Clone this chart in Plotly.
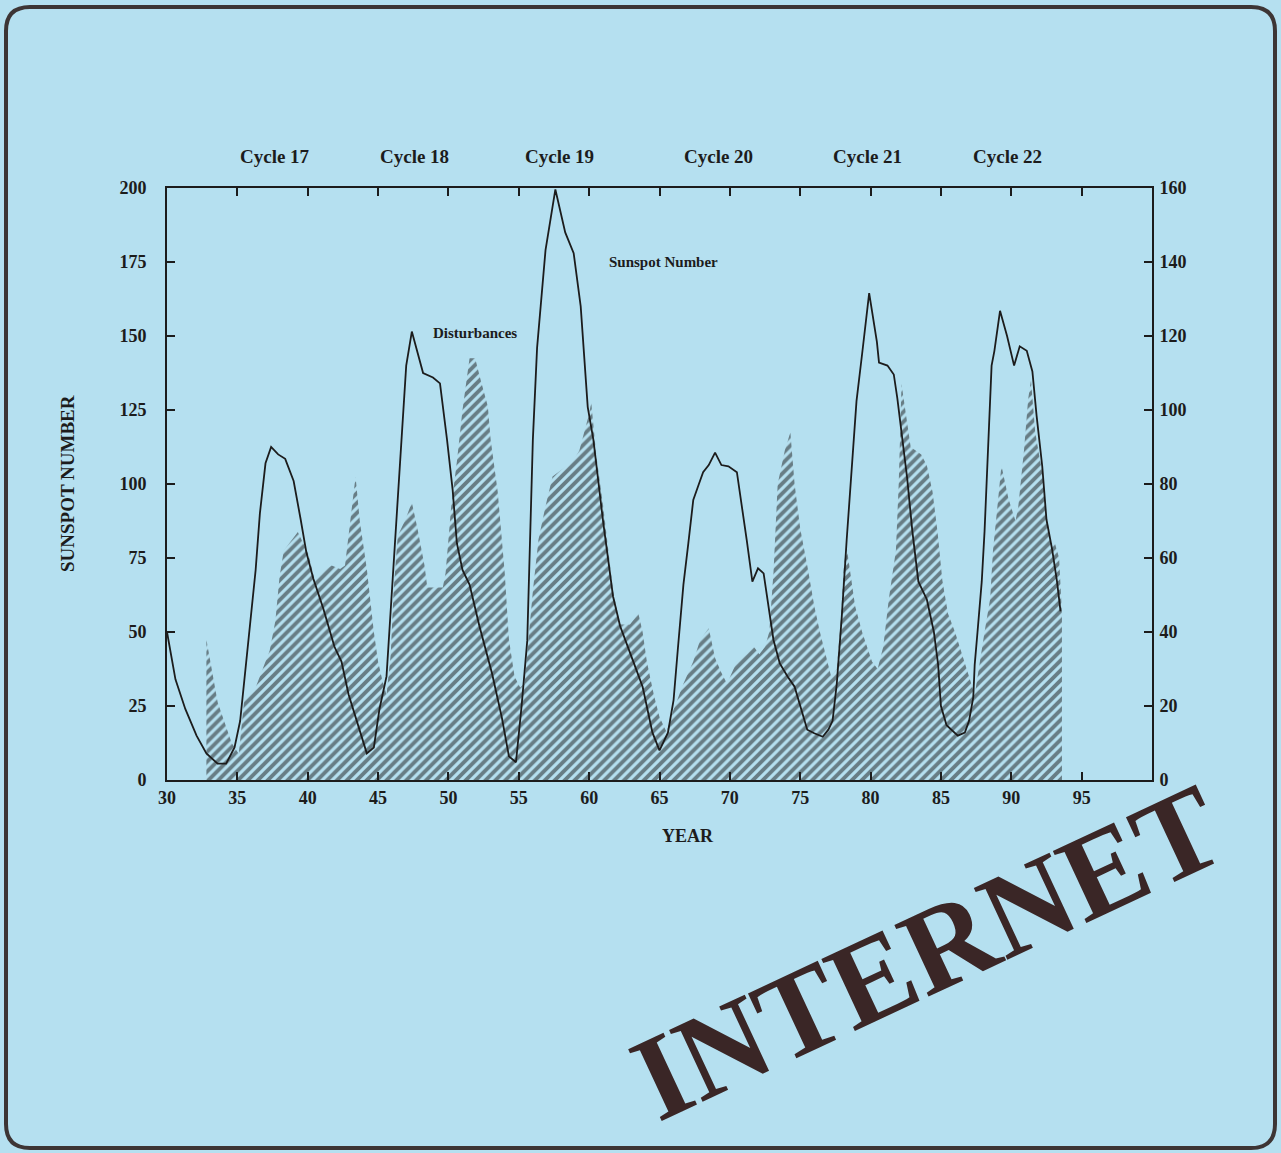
import plotly.graph_objects as go

# ---------------- data ----------------
sunspot_years = [30.0, 30.6, 31.3, 32.1, 32.8, 33.6, 34.2, 34.8, 35.2, 35.8, 36.3, 36.6, 37.0, 37.4,
                 37.9, 38.4, 39.0, 39.5, 39.9, 40.4, 41.1, 41.9, 42.4, 42.9, 43.5, 44.2, 44.7, 45.1,
                 45.6, 46.0, 46.3, 46.7, 47.0, 47.4, 48.2, 48.9, 49.4, 49.9, 50.3, 50.6, 51.0, 51.5,
                 52.2, 53.1, 53.8, 54.3, 54.8, 55.2, 55.6, 56.0, 56.3, 56.9, 57.6, 58.3, 58.9, 59.4,
                 59.9, 60.3, 61.0, 61.7, 62.2, 63.1, 63.8, 64.5, 65.0, 65.6, 66.0, 66.3, 66.7, 67.05,
                 67.4, 67.8, 68.1, 68.5, 68.95, 69.4, 69.9, 70.5, 70.8, 71.2, 71.6, 72.0, 72.4, 72.7,
                 73.1, 73.55, 74.1, 74.6, 75.1, 75.5, 76.0, 76.6, 77.0, 77.3, 77.6, 77.95, 78.3, 78.7,
                 79.0, 79.4, 79.9, 80.45, 80.6, 81.2, 81.65, 81.9, 82.25, 82.6, 82.97, 83.4, 84.0,
                 84.5, 84.8, 85.0, 85.4, 86.2, 86.7, 87.0, 87.3, 87.4, 87.6, 87.9, 88.1, 88.35, 88.6,
                 88.8, 89.2, 89.7, 90.2, 90.6, 91.1, 91.5, 91.8, 92.2, 92.5, 92.9, 93.25, 93.5]
sunspot_values = [50, 34, 24, 15, 9, 5.5, 5.5, 11, 20, 47, 71, 90, 107, 112.5,
                  110, 108.5, 101, 88, 77, 68, 58, 45, 40, 29, 20, 9, 11, 24,
                  35, 65, 88, 120, 140, 151.5, 137.5, 136, 134, 115, 98, 80, 71, 66,
                  52, 36, 21, 8, 6, 25, 47, 115, 146, 179, 199.5, 185, 178, 160,
                  126, 115, 87, 62, 52, 40.5, 31.5, 16, 10, 16, 27, 44, 66, 80,
                  94.6, 100, 104, 106.4, 110.6, 106.4, 106, 104, 94.6, 81, 67, 71.5, 69.8, 60.8,
                  47.3, 39.4, 35, 31.5, 23.7, 17, 15.8, 14.6, 17, 20, 32.6, 55, 81, 106,
                  128, 144, 164.5, 148, 141, 140, 137, 129, 115, 102, 84, 67, 61,
                  50, 39, 25, 18.5, 15, 16, 20, 28, 39, 50, 67, 84, 111, 140,
                  145, 158.5, 150, 140, 146.5, 145, 138, 123, 106, 88, 78, 67, 57]

disturb_years = [32.8, 33.6, 34.6, 35.1, 35.5, 36.2, 36.8, 37.3, 37.7, 38.0, 38.3, 38.7, 39.3, 40.05,
                 40.5, 40.8, 41.3, 41.7, 42.3, 42.65, 43.0, 43.4, 43.7, 44.2, 44.7, 45.0, 45.3, 45.6,
                 45.9, 46.1, 46.4, 46.9, 47.4, 47.8, 48.3, 48.5, 49.0, 49.6, 49.8, 50.2, 50.6, 51.0,
                 51.5, 51.9, 52.3, 52.8, 53.0, 53.5, 54.0, 54.3, 54.7, 55.1, 55.4, 56.0, 56.4, 56.9,
                 57.4, 58.1, 58.8, 59.3, 60.0, 60.15, 60.5, 61.0, 61.7, 62.2, 62.9, 63.5, 63.8, 64.1,
                 64.6, 65.0, 65.5, 66.0, 66.7, 67.4, 67.9, 68.5, 68.95, 69.4, 69.8, 70.5, 71.2, 71.7,
                 72.1, 72.5, 72.8, 73.1, 73.4, 73.9, 74.3, 74.6, 75.0, 75.5, 76.0, 76.4, 76.9, 77.2,
                 77.6, 77.9, 78.1, 78.3, 78.9, 79.4, 80.1, 80.5, 80.9, 81.3, 81.8, 82.0, 82.2, 82.85,
                 83.6, 84.0, 84.4, 84.76, 85.1, 85.5, 86.0, 86.6, 87.0, 87.4, 87.9, 88.1, 88.5, 88.7,
                 89.07, 89.3, 89.8, 90.3, 90.5, 90.9, 91.2, 91.4, 91.7, 92.2, 92.5, 92.8, 93.1, 93.4,
                 93.6]
disturb_values = [38, 21, 10, 7, 22, 24, 30, 35, 43, 55, 62, 64, 67, 61,
                  54, 55, 57, 58, 57, 58, 70, 82, 70, 57, 40, 32, 27, 23,
                  34, 51, 66, 70, 75, 68, 58, 52, 52, 52, 56, 74, 86, 100,
                  114, 114, 108, 101, 92, 78, 56, 38, 28, 25, 26, 51, 65, 74,
                  82, 84, 86, 89, 99, 102, 88, 74, 51, 42, 42, 45, 40, 32,
                  23, 17, 13, 19, 26, 32, 38, 41, 33, 29, 26, 32, 34, 36,
                  34, 36, 40, 56, 80, 89, 94, 80, 68, 58, 47, 40, 32, 28,
                  30, 44, 58, 63, 47, 40, 32, 30, 36, 49, 62, 80, 107, 90,
                  88, 85, 78, 67, 54, 45, 40, 33, 28, 23, 36, 40, 49, 62,
                  76, 85, 76, 70, 74, 89, 103, 108, 94, 83, 72, 64, 64, 60,
                  45]

x_ticks = [30, 35, 40, 45, 50, 55, 60, 65, 70, 75, 80, 85, 90, 95]
left_ticks = [0, 25, 50, 75, 100, 125, 150, 175, 200]
right_ticks = [0, 20, 40, 60, 80, 100, 120, 140, 160]
cycle_labels = ["Cycle 17", "Cycle 18", "Cycle 19", "Cycle 20", "Cycle 21", "Cycle 22"]
cycle_years = [37.7, 47.6, 57.9, 69.2, 79.8, 89.7]

# ---------------- layout helpers ----------------
W, H = 1281, 1153
L_PX, R_PX, T_PX, B_PX = 167, 1152, 188, 780
BG = "#b5e0f0"
INK = "#1c1c1c"
SERIF = "Liberation Serif, Times New Roman, serif"


def px(xp):
    return (xp - L_PX) / (R_PX - L_PX)


def py(yp):
    return (B_PX - yp) / (B_PX - T_PX)


fig = go.Figure()

fig.add_trace(go.Scatter(
    x=disturb_years, y=disturb_values, yaxis="y2", mode="lines",
    line=dict(width=0, color=INK), fill="tozeroy",
    fillcolor="rgba(0,0,0,0)",
    fillpattern=dict(shape="/", fgcolor="#1a1a1a", bgcolor="rgba(0,0,0,0)",
                     size=7, solidity=0.55),
    name="Disturbances", hoverinfo="skip"))

fig.add_trace(go.Scatter(
    x=sunspot_years, y=sunspot_values, mode="lines",
    line=dict(width=1.8, color=INK), name="Sunspot Number"))

tick_font = dict(family=SERIF, size=18, color=INK, weight="bold")
axis_common = dict(showline=True, linecolor=INK, linewidth=2, ticks="inside",
                   tickcolor=INK, tickwidth=2, ticklen=8, showgrid=False,
                   zeroline=False, tickfont=tick_font)

fig.update_layout(
    width=W, height=H, autosize=False,
    margin=dict(l=L_PX, r=W - R_PX, t=T_PX, b=H - B_PX, pad=0),
    paper_bgcolor=BG, plot_bgcolor=BG, showlegend=False,
    xaxis=dict(range=[30, 100], tickvals=x_ticks, mirror="ticks", **axis_common),
    yaxis=dict(range=[0, 200], tickvals=left_ticks, ticklabelstandoff=15, **axis_common),
    yaxis2=dict(range=[0, 160], tickvals=right_ticks, overlaying="y", side="right",
                ticklabelstandoff=2, **axis_common),
)

ann = []
for lab, yr in zip(cycle_labels, cycle_years):
    ann.append(dict(x=yr, y=py(157), xref="x", yref="paper", text="<b>" + lab + "</b>",
                    showarrow=False, font=dict(family=SERIF, size=19, color=INK),
                    xanchor="center", yanchor="middle"))

ann.append(dict(x=px(688), y=py(836), xref="paper", yref="paper", text="<b>YEAR</b>",
                showarrow=False, font=dict(family=SERIF, size=18, color=INK),
                xanchor="center", yanchor="middle"))
ann.append(dict(x=px(67), y=py(484), xref="paper", yref="paper", text="<b>SUNSPOT NUMBER</b>",
                textangle=-90, showarrow=False, font=dict(family=SERIF, size=19, color=INK),
                xanchor="center", yanchor="middle"))
ann.append(dict(x=51.9, y=151, xref="x", yref="y", text="<b>Disturbances</b>",
                showarrow=False, font=dict(family=SERIF, size=15, color=INK),
                xanchor="center", yanchor="middle"))
ann.append(dict(x=65.3, y=175, xref="x", yref="y", text="<b>Sunspot Number</b>",
                showarrow=False, font=dict(family=SERIF, size=15, color=INK),
                xanchor="center", yanchor="middle"))
ann.append(dict(x=px(927), y=py(952), xref="paper", yref="paper", text="<b>INTERNET</b>",
                textangle=-25, showarrow=False, xanchor="center", yanchor="middle",
                font=dict(family=SERIF, size=121, color="#3a2626")))
fig.update_layout(annotations=ann)

# rounded border of the card
bl, br, bt, bb, rad = 6, 1275, 7, 1148, 24
X0, X1 = px(bl), px(br)
Y0, Y1 = py(bb), py(bt)
dx, dy = rad / (R_PX - L_PX), rad / (B_PX - T_PX)
path = (f"M {X0+dx},{Y1} L {X1-dx},{Y1} Q {X1},{Y1} {X1},{Y1-dy} "
        f"L {X1},{Y0+dy} Q {X1},{Y0} {X1-dx},{Y0} L {X0+dx},{Y0} "
        f"Q {X0},{Y0} {X0},{Y0+dy} L {X0},{Y1-dy} Q {X0},{Y1} {X0+dx},{Y1} Z")
fig.add_shape(type="path", path=path, xref="paper", yref="paper",
              line=dict(color="#3d3535", width=4), layer="above")

fig.write_html("out.html", post_script="document.body.style.margin='0';",
               config={"displayModeBar": False})
